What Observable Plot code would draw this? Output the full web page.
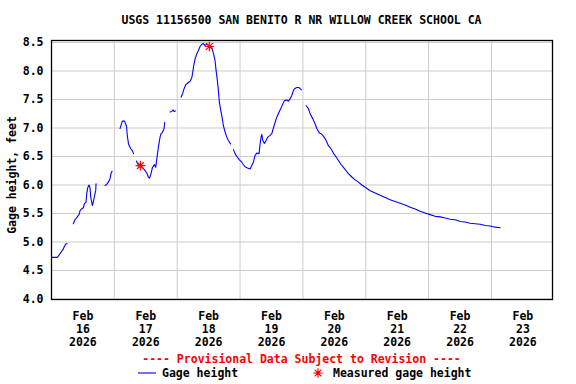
<!DOCTYPE html>
<html><head><meta charset="utf-8">
<script src="https://cdn.jsdelivr.net/npm/d3@7"></script>
<script src="https://cdn.jsdelivr.net/npm/@observablehq/plot@0.6"></script>
<style>body{margin:0;background:#fff} svg{display:block}</style>
</head><body><div id="chart"></div><script>
const title = "USGS 11156500 SAN BENITO R NR WILLOW CREEK SCHOOL CA";
const yLabel = "Gage height, feet";
const provisional = "---- Provisional Data Subject to Revision ----";
const seriesName = "Gage height";
const measuredName = "Measured gage height";

// hours since 2026-02-16 00:00; null value = gap in record
const hours = [
  0, 2.2, 2.75, 3.6, 4.3, 5.0, 5.5, 6.0, 7.0,
  8.33, 8.98, 9.86, 10.62, 10.89, 11.54, 12.15, 12.53, 13.18, 13.45, 13.83, 14.33, 14.71, 14.97, 15.59, 15.97, 16.35, 16.88, 17.0, 19.0,
  20.44, 21.09, 21.7, 22.35, 22.73, 23.11, 25.0,
  26.17, 27.05, 27.89, 28.65, 28.96, 29.41, 30.18, 30.75, 31.32, 32.0,
  32.47, 32.85, 34.46, 35.45, 36.37, 36.98, 37.44, 38.01, 38.5, 39.27, 39.8, 40.3, 40.8, 41.45, 41.83, 42.33, 42.98, 43.24, 44.5,
  45.27, 45.92, 46.41, 46.8, 47.29, 48.5,
  49.47, 50.12, 50.62, 51.26, 52.03, 52.91, 53.56, 53.94, 54.32, 54.82, 55.47, 56.08, 56.73, 57.38, 57.99, 58.64, 59.4, 60.17, 61.2, 61.88, 62.46, 62.84, 63.34, 63.72, 64.1, 64.63, 65.13, 65.63, 66.28, 66.93, 67.54, 68.38, 68.9,
  69.45, 70.1, 70.75, 71.74, 72.66, 73.27, 73.92, 74.8, 75.83, 76.48, 77.09, 77.74, 78.39, 79.27, 79.65, 80.03, 80.3, 80.68, 81.29, 81.94, 82.59, 83.47, 84.12, 84.73, 85.38, 86.03, 86.91, 87.55, 88.32, 88.93, 89.85, 90.46, 91.11, 91.76, 92.14, 92.75, 93.67, 94.43, 94.93, 95.42, 96.3,
  97.22, 98.1, 98.75, 99.78, 100.66, 101.31, 102.3, 103.22, 104.1, 104.86, 105.74, 106.65, 107.65, 108.68, 109.56, 110.59, 111.47, 112.5, 113.38, 114.68, 115.94, 117.2, 118.5, 119.76, 121.67, 123.58, 125.49, 127.4, 129.31, 131.22, 133.13, 135.04, 136.95, 138.86, 140.77, 142.68, 144.59, 146.5, 148.41, 150.32, 152.23, 154.14, 156.05, 157.96, 159.87, 161.78, 163.69, 165.6, 167.51, 169.42, 171.33
];
const gage = [
  4.73, 4.73, 4.76, 4.82, 4.86, 4.93, 4.97, 4.97, null,
  5.32, 5.39, 5.44, 5.49, 5.55, 5.58, 5.60, 5.67, 5.70, 5.85, 5.95, 6.00, 5.95, 5.79, 5.64, 5.70, 5.79, 5.90, 6.02, null,
  5.99, 6.01, 6.05, 6.11, 6.20, 6.24, null,
  6.99, 7.12, 7.12, 7.03, 6.86, 6.72, 6.64, 6.61, 6.55, null,
  6.42, 6.37, 6.32, 6.27, 6.21, 6.14, 6.12, 6.20, 6.30, 6.36, 6.31, 6.49, 6.66, 6.84, 6.90, 6.92, 6.99, 7.10, null,
  7.28, 7.29, 7.32, 7.29, 7.30, null,
  7.54, 7.61, 7.69, 7.76, 7.79, 7.82, 7.88, 7.98, 8.10, 8.21, 8.30, 8.36, 8.43, 8.47, 8.48, 8.45, 8.47, 8.44, 8.42, 8.30, 8.18, 8.01, 7.83, 7.66, 7.45, 7.31, 7.19, 7.04, 6.93, 6.84, 6.78, 6.72, null,
  6.62, 6.55, 6.50, 6.44, 6.40, 6.36, 6.32, 6.30, 6.28, 6.34, 6.40, 6.52, 6.56, 6.55, 6.72, 6.84, 6.89, 6.78, 6.73, 6.78, 6.84, 6.87, 6.90, 7.00, 7.10, 7.19, 7.28, 7.34, 7.42, 7.48, 7.49, 7.47, 7.51, 7.57, 7.63, 7.69, 7.71, 7.71, 7.69, 7.67, null,
  7.39, 7.34, 7.25, 7.16, 7.07, 6.99, 6.91, 6.89, 6.84, 6.78, 6.69, 6.64, 6.56, 6.49, 6.43, 6.36, 6.31, 6.25, 6.20, 6.14, 6.09, 6.05, 6.00, 5.96, 5.90, 5.86, 5.82, 5.78, 5.74, 5.71, 5.68, 5.65, 5.61, 5.58, 5.54, 5.51, 5.48, 5.45, 5.44, 5.42, 5.40, 5.39, 5.36, 5.35, 5.33, 5.32, 5.31, 5.29, 5.28, 5.26, 5.25
];
const measuredHours = [33.92, 60.28];
const measuredGage = [6.34, 8.43];

const monthLabel = "Feb";
const yearLabel = "2026";
const dayLabels = [16, 17, 18, 19, 20, 21, 22, 23];
const yTicks = [4.0, 4.5, 5.0, 5.5, 6.0, 6.5, 7.0, 7.5, 8.0, 8.5];

const start = Date.UTC(2026, 1, 16);
const toDate = h => new Date(start + h * 3600e3);
const series = hours.map((h, i) => ({t: toDate(h), v: gage[i]}));
const measured = measuredHours.map((h, i) => ({t: toDate(h), v: measuredGage[i]}));
const midnights = dayLabels.map(d => new Date(Date.UTC(2026, 1, d)));
const noons = dayLabels.map(d => new Date(Date.UTC(2026, 1, d, 12)));

const FONT = "'DejaVu Sans Mono', 'Liberation Mono', monospace";
const BLUE = "#0000ff", RED = "#ff0000", GRID = "#cccccc";

const starSymbol = {
  draw(ctx, size) {
    const r = Math.sqrt(size / Math.PI);
    for (let k = 0; k < 4; k++) {
      const a = k * Math.PI / 4;
      ctx.moveTo(r * Math.cos(a), r * Math.sin(a));
      ctx.lineTo(-r * Math.cos(a), -r * Math.sin(a));
    }
  }
};

const chart = Plot.plot({
  width: 576, height: 384,
  marginLeft: 51, marginRight: 24, marginTop: 40, marginBottom: 85,
  style: {fontFamily: FONT, fontSize: "11.5px", fontWeight: "bold", background: "#fff", color: "#000"},
  x: {type: "utc", domain: [toDate(0), toDate(191.3)]},
  y: {domain: [3.991, 8.535]},
  marks: [
    Plot.ruleX(midnights, {stroke: GRID, strokeOpacity: 1, strokeWidth: 1}),
    Plot.ruleY(yTicks, {stroke: GRID, strokeOpacity: 1, strokeWidth: 1}),
    Plot.line(series, {x: "t", y: "v", stroke: BLUE, strokeWidth: 1.1, curve: "linear"}),
    Plot.dot(measured, {x: "t", y: "v", symbol: starSymbol, r: 4.8, stroke: RED, strokeWidth: 1.2, fill: "none"}),
    Plot.dot(measured, {x: "t", y: "v", r: 1.7, fill: RED, stroke: "none"}),
    Plot.frame({stroke: "#000", strokeWidth: 1.3}),
    Plot.axisX(noons, {tickSize: 0, tickPadding: 11, lineHeight: 1.13,
      tickFormat: d => `${monthLabel}\n${d.getUTCDate()}\n${yearLabel}`,
      fontWeight: "bold", label: null}),
    Plot.axisY(yTicks, {tickSize: 0, tickPadding: 8, tickFormat: d3.format(".1f"), fontWeight: "bold", label: null}),
    Plot.text([yLabel], {frameAnchor: "left", textAnchor: "middle", dx: -39, dy: 5, rotate: -90, fontWeight: "bold", fill: "#000"})
  ]
});

const svg = d3.select(chart);
const txt = (x, y, s, anchor, fill) => svg.append("text")
  .attr("x", x).attr("y", y).attr("dy", "0.35em")
  .attr("text-anchor", anchor).attr("fill", fill)
  .style("font-family", FONT).style("font-size", "11.5px").style("font-weight", "bold")
  .text(s);
txt(301.5, 19.5, title, "middle", "#000");
txt(301.5, 359, provisional, "middle", RED);
svg.append("line").attr("x1", 138).attr("x2", 156).attr("y1", 373).attr("y2", 373)
  .attr("stroke", BLUE).attr("stroke-width", 1.1);
txt(162, 373, seriesName, "start", "#000");
const sp = d3.path(); starSymbol.draw(sp, 4.8 * 4.8 * Math.PI);
svg.append("path").attr("d", sp.toString()).attr("transform", "translate(318,373)")
  .attr("stroke", RED).attr("stroke-width", 1.2).attr("fill", "none");
svg.append("circle").attr("cx", 318).attr("cy", 373).attr("r", 1.7).attr("fill", RED);
txt(333, 373, measuredName, "start", "#000");

document.getElementById("chart").appendChild(chart);
</script></body></html>
